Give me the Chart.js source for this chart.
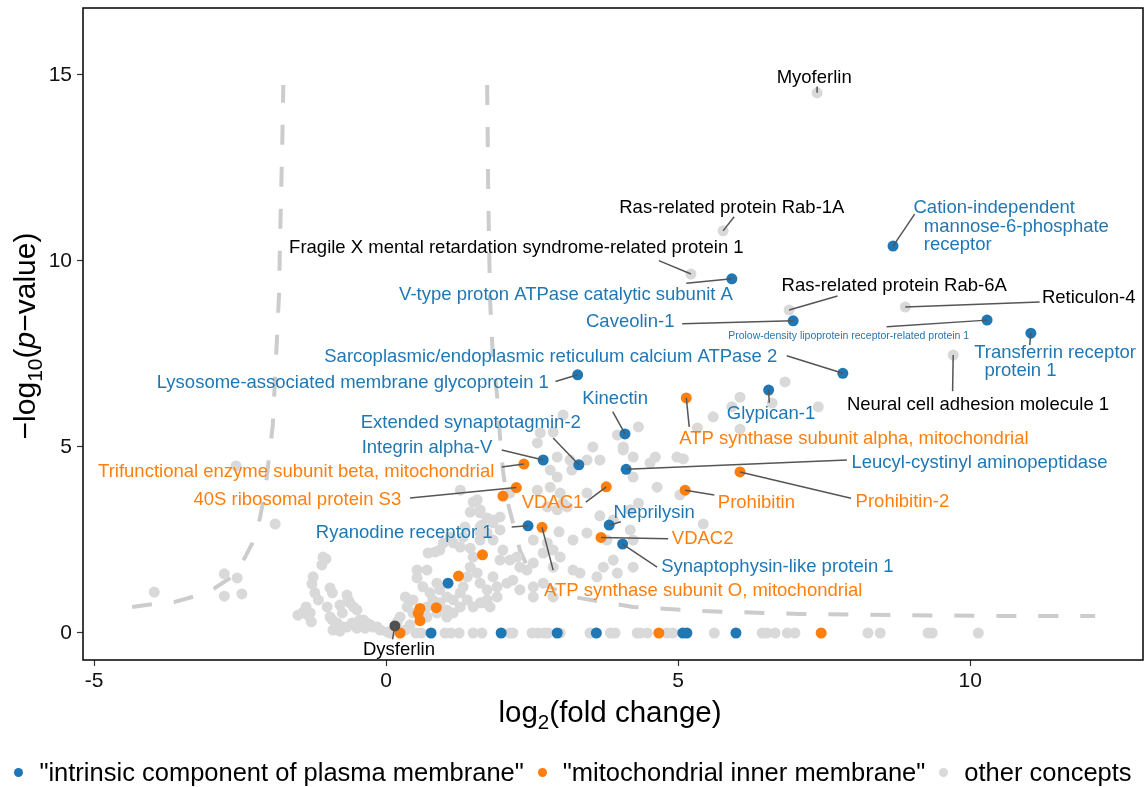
<!DOCTYPE html>
<html>
<head>
<meta charset="utf-8">
<script src="https://cdn.jsdelivr.net/npm/chart.js@4.4.1/dist/chart.umd.min.js"></script>
<style>
  body { margin: 0; background: #fff; font-family: "Liberation Sans", Arial, sans-serif; }
  #wrap { position: relative; width: 1146px; height: 787px; }
  #legend { position: absolute; left: 0; top: 758px; width: 1146px; display: flex; justify-content: center; align-items: center; font-size: 25.5px; color: #000; white-space: nowrap; }
  .legend-item { display: flex; align-items: center; margin: 0 7px; }
  .legend-dot { width: 9px; height: 9px; border-radius: 50%; margin-right: 16px; }
</style>
</head>
<body>
<div id="wrap">
  <canvas id="volcano" width="1146" height="787"></canvas>
  <div id="legend"></div>
</div>
<script>
// =============================================
// DATA
// =============================================
const xTicks = [-5, 0, 5, 10];
const yTicks = [0, 5, 10, 15];

const legendLabels = ['"intrinsic component of plasma membrane"', '"mitochondrial inner membrane"', 'other concepts'];

// [log2 fold change, -log10 p]; labelled proteins first
const plasmaPoints = [
  [8.68, 10.40], [5.92, 9.52], [6.97, 8.39], [10.29, 8.41], [11.04, 8.06], [7.82, 6.98],
  [3.28, 6.94], [6.55, 6.53], [4.09, 5.35], [3.30, 4.52], [2.69, 4.65], [4.11, 4.40],
  [2.43, 2.88], [3.82, 2.90], [4.05, 2.39], [1.06, 1.34],
  [0.77, 0], [1.97, 0], [2.93, 0], [3.60, 0], [5.08, 0], [5.15, 0], [5.99, 0]
];

const mitoPoints = [
  [5.14, 6.32], [2.36, 4.54], [2.23, 3.91], [3.77, 3.93], [6.06, 4.33], [5.12, 3.84],
  [2.67, 2.84], [3.68, 2.57], [2.00, 3.68], [1.65, 2.10], [1.24, 1.53], [0.86, 0.68],
  [0.58, 0.66], [0.55, 0.53], [0.58, 0.33],
  [0.24, 0], [4.67, 0], [7.45, 0]
];

const dysferlinPoints = [[0.15, 0.19]];

const otherPoints = [
  [7.38, 14.52], [5.77, 10.81], [5.22, 9.65], [6.90, 8.68], [8.89, 8.76], [9.71, 7.47],
  // left side
  [-3.97, 1.10], [-2.77, 1.59], [-2.55, 1.48], [-2.77, 0.99], [-2.47, 1.05], [-2.57, 4.49], [-1.90, 2.93],
  [-1.51, 0.48], [-1.42, 0.56], [-1.30, 0.54], [-1.28, 0.30], [-1.37, 0.70], [-1.25, 1.51], [-1.10, 1.83],
  [-1.03, 1.99], [-1.27, 1.32], [-1.22, 1.08], [-1.16, 0.89], [-0.96, 1.21], [-0.92, 1.08], [-1.01, 0.70],
  [-0.96, 0.43], [-0.92, 0.35], [-0.79, 0.75], [-0.75, 0.54], [-0.67, 1.02], [-0.65, 0.89], [-0.56, 0.70],
  [-0.50, 0.62], [-0.84, 0.27], [-0.79, 0.05], [-0.67, 0.16], [-0.45, 0.35], [-0.33, 0.27], [-0.22, 0.16],
  [-0.10, 0.08], [0.02, 0.03], [-0.91, 0.08], [-1.34, 0.48], [-1.08, 2.04], [-0.62, 0.81], [-0.74, 0.16],
  [-0.58, 0.27], [-0.50, 0.13], [-0.36, 0.13], [-0.27, 0.22], [-0.15, 0.16], [0.07, 0.00], [-0.39, 0.35],
  // middle cluster
  [0.33, 0.97], [0.53, 1.69], [0.70, 1.69], [0.53, 1.48], [0.72, 2.15], [0.84, 2.18], [0.92, 2.23],
  [0.98, 2.42], [1.10, 2.58], [1.15, 2.42], [1.27, 2.31], [1.32, 2.58], [1.44, 2.28], [1.61, 2.50],
  [1.64, 2.90], [1.61, 3.23], [1.56, 3.58], [1.83, 2.96], [1.95, 2.77], [0.63, 1.24], [0.75, 1.08],
  [0.87, 1.34], [0.92, 1.16], [1.04, 0.97], [1.15, 0.89], [1.27, 1.08], [1.32, 1.24], [1.39, 1.51],
  [0.92, 0.81], [1.04, 0.62], [1.15, 0.54], [0.80, 0.89], [0.70, 0.70], [0.46, 0.89], [0.36, 0.70],
  [0.46, 0.54], [0.24, 0.43], [0.19, 0.30], [0.70, 0.43], [0.87, 0.54], [1.49, 2.04], [1.44, 1.77],
  [1.56, 1.61], [1.61, 1.34], [1.73, 1.16], [1.66, 0.81], [1.83, 1.51], [1.90, 1.24], [1.90, 0.97],
  [2.07, 1.34], [2.12, 1.96], [2.17, 1.42], [2.29, 1.16], [2.29, 1.77], [2.41, 1.69], [2.52, 1.88],
  [1.04, 0.43], [1.27, 0.70], [1.39, 0.89], [1.49, 0.70], [1.61, 0.81], [1.73, 0.89], [1.78, 0.70],
  [0.41, 0.22], [0.33, 0.08],
  // upper middle
  [2.59, 5.11], [2.93, 4.73], [2.81, 4.38], [2.93, 4.19], [3.15, 4.65], [3.54, 5.00], [3.66, 4.65],
  [4.06, 5.00], [4.23, 4.73], [4.23, 4.19], [2.12, 3.76], [2.59, 3.84], [2.76, 3.39], [2.93, 3.31],
  [3.10, 3.39], [1.27, 3.84], [1.49, 3.52], [1.61, 3.31], [1.73, 3.09], [1.83, 3.04], [1.61, 2.85],
  [1.95, 3.12], [1.44, 3.25], [1.73, 2.69], [1.83, 2.50], [2.00, 2.23], [2.24, 2.04], [1.95, 1.96],
  [2.52, 2.50], [2.76, 2.42], [2.69, 2.15], [2.86, 2.23], [2.98, 2.04], [2.86, 1.77], [3.20, 1.69],
  [3.32, 1.61], [3.61, 1.51], [3.72, 1.77], [3.89, 1.96], [3.96, 1.61], [4.23, 1.77], [4.18, 2.77],
  [3.89, 3.04], [4.18, 3.31], [4.23, 2.50], [3.20, 2.50], [3.44, 2.69], [3.78, 2.50], [2.52, 1.24],
  [2.69, 1.34], [2.86, 0.97], [2.96, 2.72], [2.52, 0.97], [3.66, 3.15], [3.03, 5.86], [2.86, 5.40],
  [2.64, 5.38], [3.18, 4.38], [3.44, 4.65], [3.96, 5.32], [2.81, 3.92], [2.98, 3.76], [3.03, 3.49],
  [3.44, 3.76], [1.35, 2.85], [1.61, 2.69],
  // upper right
  [6.83, 6.75], [6.06, 6.34], [5.92, 6.08], [5.60, 5.81], [5.33, 5.51], [6.06, 5.48], [7.40, 6.08],
  [6.61, 6.18], [4.32, 5.54], [4.06, 4.92], [4.52, 4.57], [4.61, 4.73], [4.98, 4.73], [5.09, 4.68],
  [4.64, 3.92], [5.03, 3.71], [5.43, 2.93], [4.32, 3.49],
  // p-value of 1
  [0.51, 0], [0.60, 0], [1.01, 0], [1.11, 0], [1.25, 0], [1.49, 0], [1.64, 0], [2.12, 0], [2.17, 0],
  [2.50, 0], [2.60, 0], [2.71, 0], [2.77, 0], [2.98, 0], [3.49, 0], [3.84, 0], [3.92, 0], [4.30, 0],
  [4.35, 0], [4.47, 0], [4.81, 0], [4.91, 0], [5.62, 0], [6.44, 0], [6.52, 0], [6.66, 0], [6.87, 0],
  [7.00, 0], [8.25, 0], [8.46, 0], [9.28, 0], [9.35, 0], [10.14, 0]
];

// significance thresholds
const leftCurve = [
  [-4.35, 0.70], [-3.99, 0.78], [-3.63, 0.83], [-3.27, 0.99], [-2.93, 1.21], [-2.64, 1.51],
  [-2.42, 2.02], [-2.28, 2.45], [-2.16, 3.09], [-2.07, 3.84], [-2.00, 4.78], [-1.94, 5.59],
  [-1.87, 7.88], [-1.83, 9.22], [-1.82, 10.30], [-1.80, 11.64], [-1.78, 12.98], [-1.76, 14.73]
];
const rightCurve = [
  [1.73, 14.73], [1.75, 11.64], [1.78, 8.95], [1.83, 7.34], [1.90, 6.40], [1.95, 5.27],
  [2.00, 4.38], [2.07, 3.58], [2.16, 3.04], [2.29, 2.23], [2.43, 1.75], [2.72, 1.29],
  [3.20, 0.97], [4.23, 0.70], [5.38, 0.59], [7.09, 0.51], [8.80, 0.48], [10.51, 0.46], [12.14, 0.46]
];

const labelText = [
  'Myoferlin', 'Ras-related protein Rab-1A', 'Fragile X mental retardation syndrome-related protein 1',
  'V-type proton ATPase catalytic subunit A', 'Cation-independent\n  mannose-6-phosphate\n  receptor',
  'Ras-related protein Rab-6A', 'Reticulon-4', 'Caveolin-1',
  'Prolow-density lipoprotein receptor-related protein 1', 'Transferrin receptor\n  protein 1',
  'Sarcoplasmic/endoplasmic reticulum calcium ATPase 2', 'Neural cell adhesion molecule 1',
  'Lysosome-associated membrane glycoprotein 1', 'Kinectin', 'Glypican-1', 'Extended synaptotagmin-2',
  'ATP synthase subunit alpha, mitochondrial', 'Integrin alpha-V',
  'Trifunctional enzyme subunit beta, mitochondrial', 'Leucyl-cystinyl aminopeptidase',
  '40S ribosomal protein S3', 'VDAC1', 'Prohibitin', 'Prohibitin-2', 'Neprilysin', 'Ryanodine receptor 1',
  'VDAC2', 'Synaptophysin-like protein 1', 'ATP synthase subunit O, mitochondrial', 'Dysferlin'
];
const labelGroup = [
  'other', 'other', 'other', 'plasma', 'plasma', 'other', 'other', 'plasma', 'plasma', 'plasma',
  'plasma', 'other', 'plasma', 'plasma', 'plasma', 'plasma', 'mito', 'plasma', 'mito', 'plasma',
  'mito', 'mito', 'mito', 'mito', 'plasma', 'plasma', 'mito', 'plasma', 'mito', 'dysferlin'
];
const labelIndex = [0, 1, 2, 1, 0, 3, 4, 2, 3, 4, 5, 5, 6, 8, 7, 9, 0, 10, 1, 11, 2, 3, 5, 4, 13, 12, 7, 14, 6, 0];

// =============================================
// LABEL PLACEMENT (data units, like ggrepel output)
// =============================================
const labelAt = [
  [7.33, 14.92], [5.92, 11.42], [2.23, 10.35], [3.08, 9.09], [9.03, 11.42], [8.70, 9.33], [11.23, 9.01],
  [4.18, 8.36], [7.92, 7.98], [10.07, 7.53], [2.82, 7.42], [7.89, 6.13], [-0.57, 6.72], [3.92, 6.29],
  [6.59, 5.89], [1.45, 5.65], [8.01, 5.22], [0.70, 4.97], [-1.54, 4.33], [10.16, 4.57], [-1.52, 3.58],
  [2.85, 3.49], [6.34, 3.49], [8.84, 3.53], [4.59, 3.23], [0.31, 2.69], [5.42, 2.53], [6.70, 1.77],
  [5.43, 1.13], [0.22, -0.46]
];
const leaderTo = [
  [7.38, 14.69], [5.96, 11.19], [4.67, 10.01], [5.14, 9.40], [9.05, 11.26], [7.73, 9.06], [11.19, 8.90],
  [5.07, 8.31], [8.57, 8.23], [11.02, 7.74], [6.86, 7.45], [9.70, 6.50], [2.90, 6.76], [3.88, 5.95],
  [6.56, 6.19], [2.86, 5.24], [5.19, 5.54], [1.98, 4.92], [1.98, 4.46], [7.89, 4.65], [0.41, 3.63],
  [3.42, 3.52], [5.62, 3.71], [7.96, 3.62], [4.02, 2.99], [2.15, 2.85], [4.83, 2.53], [4.64, 1.77],
  [2.86, 1.69], [0.11, -0.17]
];
const leftAligned = [4, 6, 9, 11];
const smallLabels = [8];

const COLORS = { plasma: '#1f77b4', mito: '#ff7f0e', other: '#d9d9d9', dysferlin: '#505050' };
const TEXT_COLORS = { plasma: '#1f77b4', mito: '#ff7f0e', other: '#000000', dysferlin: '#000000' };
const SERIES = { plasma: plasmaPoints, mito: mitoPoints, other: otherPoints, dysferlin: dysferlinPoints };
const FONT = '"Liberation Sans", Arial, sans-serif';

const toXY = arr => arr.map(p => ({ x: p[0], y: p[1] }));

// =============================================
// PLUGINS
// =============================================
const proteinLabels = {
  id: 'proteinLabels',
  afterDatasetsDraw(chart) {
    const { ctx, scales: { x, y } } = chart;
    ctx.save();
    // leader segments
    ctx.strokeStyle = '#555555';
    ctx.lineWidth = 1.5;
    labelText.forEach((t, i) => {
      const p = SERIES[labelGroup[i]][labelIndex[i]];
      ctx.beginPath();
      ctx.moveTo(x.getPixelForValue(p[0]), y.getPixelForValue(p[1]));
      ctx.lineTo(x.getPixelForValue(leaderTo[i][0]), y.getPixelForValue(leaderTo[i][1]));
      ctx.stroke();
    });
    // texts
    ctx.textBaseline = 'middle';
    labelText.forEach((t, i) => {
      const size = smallLabels.includes(i) ? 10.5 : 18.5;
      ctx.font = size + 'px ' + FONT;
      ctx.fillStyle = TEXT_COLORS[labelGroup[i]];
      ctx.textAlign = leftAligned.includes(i) ? 'left' : 'center';
      const px = x.getPixelForValue(labelAt[i][0]);
      const py = y.getPixelForValue(labelAt[i][1]);
      t.split('\n').forEach((line, k) => ctx.fillText(line, px, py + k * 18.5));
    });
    ctx.restore();
  }
};

function drawRich(ctx, parts, cx, cy, size) {
  const fontOf = p => (p.italic ? 'italic ' : '') + (p.sub ? size * 0.7 : size) + 'px ' + FONT;
  let total = 0;
  parts.forEach(p => { ctx.font = fontOf(p); total += ctx.measureText(p.t).width; });
  let cur = cx - total / 2;
  ctx.textAlign = 'left';
  ctx.textBaseline = 'middle';
  parts.forEach(p => {
    ctx.font = fontOf(p);
    ctx.fillText(p.t, cur, cy + (p.sub ? size * 0.3 : 0));
    cur += ctx.measureText(p.t).width;
  });
}

const panelFrame = {
  id: 'panelFrame',
  afterDraw(chart) {
    const { ctx, chartArea: a } = chart;
    ctx.save();
    ctx.strokeStyle = '#000';
    ctx.lineWidth = 1.5;
    ctx.strokeRect(a.left, a.top, a.right - a.left, a.bottom - a.top);
    ctx.fillStyle = '#000';
    drawRich(ctx, [{ t: 'log' }, { t: '2', sub: true }, { t: '(fold change)' }],
      (a.left + a.right) / 2 - 3, 714, 29.5);
    ctx.translate(27, (a.top + a.bottom) / 2 + 2);
    ctx.rotate(-Math.PI / 2);
    drawRich(ctx, [{ t: '\u2212log' }, { t: '10', sub: true }, { t: '(' }, { t: 'p', italic: true }, { t: '\u2212value)' }],
      0, 0, 30);
    ctx.restore();
  }
};

// =============================================
// CHART
// =============================================
const pointSet = (label, data, color, order) => ({
  label, data: toXY(data), backgroundColor: color, borderWidth: 0,
  pointRadius: 5.5, pointHoverRadius: 5.5, order
});
const curveSet = (data) => ({
  label: 'threshold', data: toXY(data), showLine: true, pointRadius: 0,
  borderColor: '#cccccc', borderWidth: 4, borderDash: [20, 22], fill: false, order: 10
});

new Chart(document.getElementById('volcano'), {
  type: 'scatter',
  data: {
    datasets: [
      curveSet(leftCurve),
      curveSet(rightCurve),
      pointSet(legendLabels[2], otherPoints, COLORS.other, 5),
      pointSet(legendLabels[0], plasmaPoints, COLORS.plasma, 3),
      pointSet(legendLabels[1], mitoPoints, COLORS.mito, 2),
      pointSet('Dysferlin', dysferlinPoints, COLORS.dysferlin, 1)
    ]
  },
  options: {
    responsive: false,
    animation: false,
    devicePixelRatio: 1,
    layout: { padding: { top: 8, right: 3, left: 0, bottom: 0 }, autoPadding: false },
    plugins: { legend: { display: false }, tooltip: { enabled: false } },
    scales: {
      x: {
        type: 'linear', min: -5.19, max: 12.96,
        afterBuildTicks: s => { s.ticks = xTicks.map(v => ({ value: v })); },
        afterFit: s => { s.height = 127; s.paddingLeft = 0; s.paddingRight = 0; },
        border: { display: false },
        grid: { drawOnChartArea: false, tickLength: 6, tickColor: '#333', tickWidth: 1.2 },
        ticks: { font: { size: 21, family: FONT }, color: '#111', padding: 3, maxRotation: 0, autoSkip: false }
      },
      y: {
        type: 'linear', min: -0.726, max: 16.8,
        afterBuildTicks: s => { s.ticks = yTicks.map(v => ({ value: v })); },
        afterFit: s => { s.width = 83; s.paddingTop = 0; s.paddingBottom = 0; },
        border: { display: false },
        grid: { drawOnChartArea: false, tickLength: 6, tickColor: '#333', tickWidth: 1.2 },
        ticks: { font: { size: 21, family: FONT }, color: '#111', padding: 5, autoSkip: false }
      }
    }
  },
  plugins: [proteinLabels, panelFrame]
});

// =============================================
// LEGEND
// =============================================
const legendColors = [COLORS.plasma, COLORS.mito, COLORS.other];
document.getElementById('legend').innerHTML = legendLabels.map((l, i) =>
  `<span class="legend-item"><span class="legend-dot" style="background:${legendColors[i]}"></span>${l}</span>`
).join('');
</script>
</body>
</html>
